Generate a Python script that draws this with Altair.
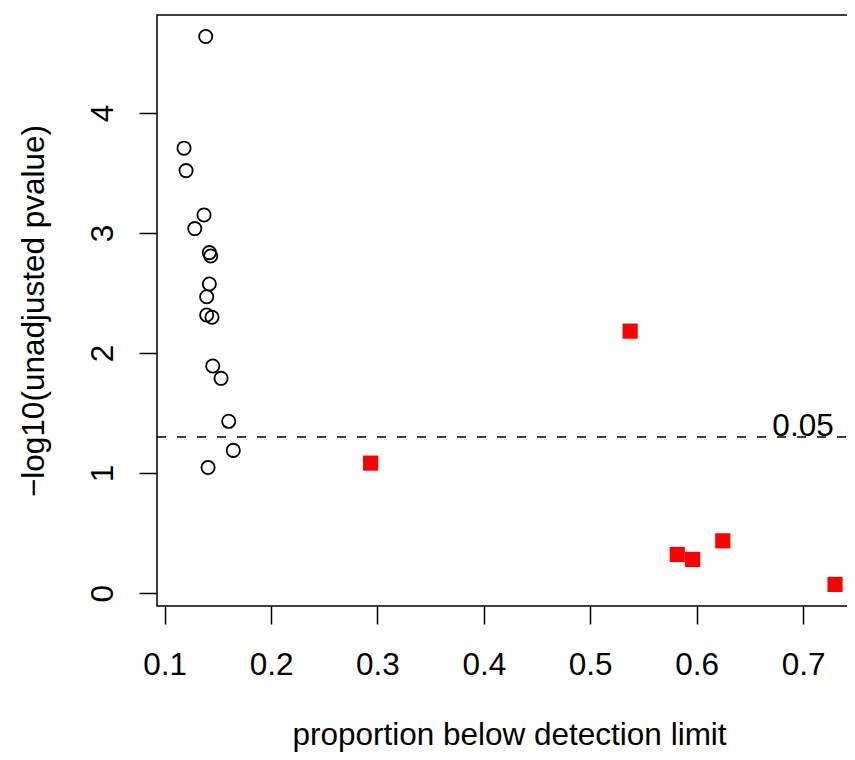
import altair as alt
import pandas as pd

# Open circles (black)
circle_x = [0.1386, 0.1182, 0.1201, 0.1370, 0.1283, 0.1420, 0.1433, 0.1420,
            0.1395, 0.1395, 0.1445, 0.1452, 0.1530, 0.1602, 0.1645, 0.1408]
circle_y = [4.636, 3.706, 3.519, 3.150, 3.036, 2.836, 2.808, 2.575,
            2.469, 2.317, 2.298, 1.892, 1.789, 1.431, 1.189, 1.047]

# Filled red squares
square_x = [0.2936, 0.5375, 0.5818, 0.5962, 0.6246, 0.7301]
square_y = [1.083, 2.182, 0.3225, 0.281, 0.436, 0.0725]

x_ticks = [0.1, 0.2, 0.3, 0.4, 0.5, 0.6, 0.7]
y_ticks = [0, 1, 2, 3, 4]
threshold = 1.30103  # -log10(0.05)
threshold_label = "0.05"
threshold_label_x = 0.7

x_title = "proportion below detection limit"
y_title = "\u2212log10(unadjusted pvalue)"

W, H = 704, 591
FONT = "Liberation Sans"
FS = 31.5

circles = pd.DataFrame({"x": circle_x, "y": circle_y})
squares = pd.DataFrame({"x": square_x, "y": square_y})
thr = pd.DataFrame({"y": [threshold]})
lab = pd.DataFrame({"x": [threshold_label_x], "y": [threshold], "t": [threshold_label]})

xscale = alt.Scale(domain=[0.0928, 0.7545], nice=False, zero=False)
yscale = alt.Scale(domain=[-0.107, 4.815], nice=False, zero=False)

xaxis = alt.Axis(
    title=x_title, values=x_ticks, format=".1f", grid=False, domain=False,
    tickSize=18, tickWidth=1.5, tickColor="black",
    labelPadding=25, labelFontSize=FS, labelFont=FONT, labelColor="black",
    labelBaseline="top", labelFlush=False, labelOverlap=False,
    titleFontSize=FS, titleFont=FONT, titleFontWeight="normal", titleColor="black",
    titleX=W / 2, titleY=138, titleBaseline="alphabetic", titleAlign="center",
)
yaxis = alt.Axis(
    title=y_title, values=y_ticks, format="d", grid=False, domain=False,
    tickSize=18, tickWidth=1.5, tickColor="black",
    labelPadding=27, labelFontSize=FS, labelFont=FONT, labelColor="black",
    labelAngle=270, labelAlign="center", labelBaseline="alphabetic",
    labelFlush=False, labelOverlap=False,
    titleFontSize=FS, titleFont=FONT, titleFontWeight="normal", titleColor="black",
    titleX=-114, titleY=H / 2, titleAngle=270, titleBaseline="alphabetic",
    titleAlign="center",
)

base_x = alt.X("x:Q", scale=xscale, axis=xaxis)
base_y = alt.Y("y:Q", scale=yscale, axis=yaxis)

pts_c = alt.Chart(circles).mark_point(
    shape="circle", filled=False, color="black", size=175, strokeWidth=1.8, opacity=1
).encode(x=base_x, y=base_y)

pts_s = alt.Chart(squares).mark_square(
    color="#ff0000", size=230, opacity=1
).encode(x=alt.X("x:Q", scale=xscale), y=alt.Y("y:Q", scale=yscale))

rule = alt.Chart(thr).mark_rule(
    strokeDash=[9, 11], strokeWidth=1.5, color="black"
).encode(y=alt.Y("y:Q", scale=yscale), x=alt.value(0), x2=alt.value(W))

txt = alt.Chart(lab).mark_text(
    font=FONT, fontSize=FS, color="black", align="center", baseline="alphabetic", dy=-1
).encode(x=alt.X("x:Q", scale=xscale), y=alt.Y("y:Q", scale=yscale), text="t:N")

chart = alt.layer(pts_c, pts_s, rule, txt).properties(
    width=W, height=H,
    padding={"left": 149, "top": 7, "right": -14, "bottom": 146},
    autosize=alt.AutoSizeParams(type="none"),
    background="white",
).configure_view(stroke="black", strokeWidth=1.5)

chart.save("out.html", embed_options={"renderer": "svg", "actions": False})
